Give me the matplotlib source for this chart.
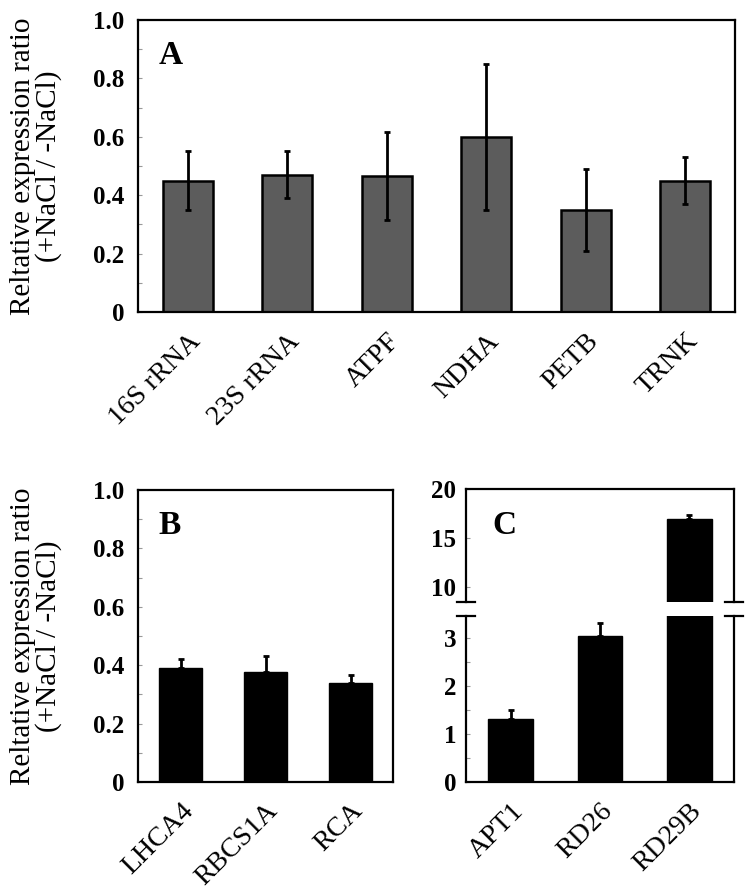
import matplotlib
matplotlib.use("Agg")
import matplotlib.pyplot as plt
from matplotlib.ticker import FixedLocator, MultipleLocator

plt.rcParams['font.family'] = ['Liberation Serif', 'DejaVu Serif']

# ---- data ----
genes_a = ["16S rRNA", "23S rRNA", "ATPF", "NDHA", "PETB", "TRNK"]
vals_a = [0.45, 0.47, 0.465, 0.60, 0.35, 0.45]
err_a = [0.10, 0.08, 0.15, 0.25, 0.14, 0.08]

genes_b = ["LHCA4", "RBCS1A", "RCA"]
vals_b = [0.39, 0.377, 0.339]
err_b = [0.03, 0.055, 0.027]

genes_c = ["APT1", "RD26", "RD29B"]
vals_c = [1.31, 3.03, 16.9]
err_c = [0.19, 0.27, 0.5]

yticks_ab = [0, 0.2, 0.4, 0.6, 0.8, 1.0]
ylabels_ab = ["0", "0.2", "0.4", "0.6", "0.8", "1.0"]
yticks_c_low = [0, 1, 2, 3]
yticks_c_high = [10, 15, 20]

W, H = 750, 894
fig = plt.figure(figsize=(W / 100, H / 100), dpi=100)

def rect(l, t, r, b):
    return [l / W, 1 - b / H, (r - l) / W, (b - t) / H]

TICK_FS = 18
XT_FS = 20
YL_FS = 21
PANEL_FS = 24

def style(ax):
    for s in ax.spines.values():
        s.set_linewidth(1.6)
    ax.tick_params(axis='y', which='major', direction='in', length=3, width=0.8,
                   color='#999999', labelsize=TICK_FS, pad=10)
    ax.tick_params(axis='y', which='minor', direction='in', length=3, width=0.8,
                   color='#999999')
    ax.tick_params(axis='x', length=0, labelsize=XT_FS, pad=12)
    for lab in ax.get_yticklabels():
        lab.set_fontweight('bold')

ylabel_txt = "Reltative expression ratio\n(+NaCl / -NaCl)"

# ---- Panel A ----
axA = fig.add_axes(rect(138, 20, 735, 312))
xa = range(len(genes_a))
axA.bar(xa, vals_a, width=0.5, color='#5c5c5c', edgecolor='black', linewidth=1.8, zorder=2)
axA.errorbar(xa, vals_a, yerr=err_a, fmt='none', ecolor='black', elinewidth=2,
             capsize=2, capthick=2, zorder=3)
axA.set_xlim(-0.5, len(genes_a) - 0.5)
axA.set_ylim(0, 1.0)
axA.yaxis.set_major_locator(FixedLocator(yticks_ab))
axA.set_yticklabels(ylabels_ab)
axA.yaxis.set_minor_locator(MultipleLocator(0.1))
axA.set_xticks(list(xa))
axA.set_xticklabels(genes_a, rotation=45, ha='right', rotation_mode='anchor')
style(axA)
axA.set_ylabel(ylabel_txt, fontsize=YL_FS, linespacing=1.0, va='center')
axA.yaxis.set_label_coords((36 - 138) / 597, 0.5)
axA.text(0.034, 0.88, "A", transform=axA.transAxes, fontsize=PANEL_FS, fontweight='bold',
         va='center', ha='left')

# ---- Panel B ----
axB = fig.add_axes(rect(138, 490, 393, 782))
xb = range(len(genes_b))
axB.bar(xb, vals_b, width=0.5, color='black', edgecolor='black', zorder=2)
axB.errorbar(xb, vals_b, yerr=[[0] * len(err_b), err_b], fmt='none', ecolor='black',
             elinewidth=2, capsize=2, capthick=2, zorder=3)
axB.set_xlim(-0.5, len(genes_b) - 0.5)
axB.set_ylim(0, 1.0)
axB.yaxis.set_major_locator(FixedLocator(yticks_ab))
axB.set_yticklabels(ylabels_ab)
axB.yaxis.set_minor_locator(MultipleLocator(0.1))
axB.set_xticks(list(xb))
axB.set_xticklabels(genes_b, rotation=45, ha='right', rotation_mode='anchor')
style(axB)
axB.set_ylabel(ylabel_txt, fontsize=YL_FS, linespacing=1.0, va='center')
axB.yaxis.set_label_coords((36 - 138) / 255, 0.5)
axB.text(0.08, 0.88, "B", transform=axB.transAxes, fontsize=PANEL_FS, fontweight='bold',
         va='center', ha='left')

# ---- Panel C (broken axis) ----
axCh = fig.add_axes(rect(466, 489, 734, 602))
axCl = fig.add_axes(rect(466, 616, 734, 782))
xc = range(len(genes_c))
for ax in (axCh, axCl):
    ax.bar(xc, vals_c, width=0.5, color='black', edgecolor='black', zorder=2)
    ax.errorbar(xc, vals_c, yerr=[[0] * len(err_c), err_c], fmt='none', ecolor='black',
                elinewidth=2, capsize=2, capthick=2, zorder=3)
    ax.set_xlim(-0.5, len(genes_c) - 0.5)
axCh.set_ylim(8.5, 20)
axCl.set_ylim(0, 3.45)
axCh.yaxis.set_major_locator(FixedLocator(yticks_c_high))
axCl.yaxis.set_major_locator(FixedLocator(yticks_c_low))
axCl.yaxis.set_minor_locator(MultipleLocator(0.5))
axCh.spines['bottom'].set_visible(False)
axCl.spines['top'].set_visible(False)
axCh.set_xticks([])
axCl.set_xticks(list(xc))
axCl.set_xticklabels(genes_c, rotation=45, ha='right', rotation_mode='anchor')
style(axCh)
style(axCl)
axCh.tick_params(axis='y', pad=7)
axCl.tick_params(axis='y', pad=7)
# break marks
dx = 9 / 268
for ax, yv in ((axCh, 0), (axCl, 1)):
    for xv in (0, 1):
        ax.plot([xv - dx, xv + dx], [yv, yv], transform=ax.transAxes, color='black',
                lw=1.6, clip_on=False)
axCh.text(0.097, 0.68, "C", transform=axCh.transAxes, fontsize=PANEL_FS, fontweight='bold',
          va='center', ha='left')

fig.savefig("out.png", dpi=100)
